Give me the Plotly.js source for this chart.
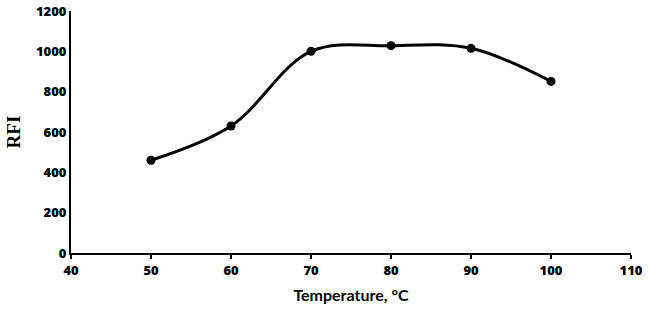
<!DOCTYPE html>
<html><head><meta charset="utf-8">
<script src="https://cdn.plot.ly/plotly-3.0.1.min.js"></script>
<style>html,body{margin:0;padding:0;background:#fff}#c{width:649px;height:311px}</style>
</head><body><div id="c"></div>
<script>
const temperature = [50, 60, 70, 80, 90, 100];
const rfi = [460, 630, 1000, 1028, 1015, 851];
const xTicks = [40, 50, 60, 70, 80, 90, 100, 110];
const yTicks = [0, 200, 400, 600, 800, 1000, 1200];

Plotly.newPlot('c', [{
  x: temperature, y: rfi, type: 'scatter', mode: 'lines+markers',
  line: {color: '#000', width: 3, shape: 'spline', smoothing: 1},
  marker: {color: '#000', size: 9}
}], {
  width: 649, height: 311,
  margin: {l: 71, r: 18, t: 11, b: 58},
  paper_bgcolor: '#fff', plot_bgcolor: '#fff',
  showlegend: false,
  font: {family: 'Lato, "Open Sans", sans-serif', color: '#000'},
  xaxis: {
    range: [40, 110], tickvals: xTicks, ticktext: xTicks.map(String),
    showline: true, linecolor: '#000', linewidth: 2, showgrid: false, zeroline: false,
    ticks: 'outside', ticklen: 4, tickwidth: 1.5, tickcolor: '#000',
    tickfont: {family: '"Open Sans"', size: 13, weight: 800, color: '#000'},
    title: {text: 'Temperature, °C', font: {family: 'Lato', size: 16, weight: 'bold', color: '#000'}, standoff: 12}
  },
  yaxis: {
    range: [0, 1200], tickvals: yTicks, ticktext: yTicks.map(String),
    showline: true, linecolor: '#000', linewidth: 2, showgrid: false, zeroline: false,
    ticks: '',
    tickfont: {family: '"Open Sans"', size: 13, weight: 800, color: '#000'},
    title: {text: 'RFI', font: {family: '"Liberation Serif", serif', size: 19, weight: 'bold', color: '#000'}, standoff: 10}
  }
}, {staticPlot: true});
</script></body></html>
